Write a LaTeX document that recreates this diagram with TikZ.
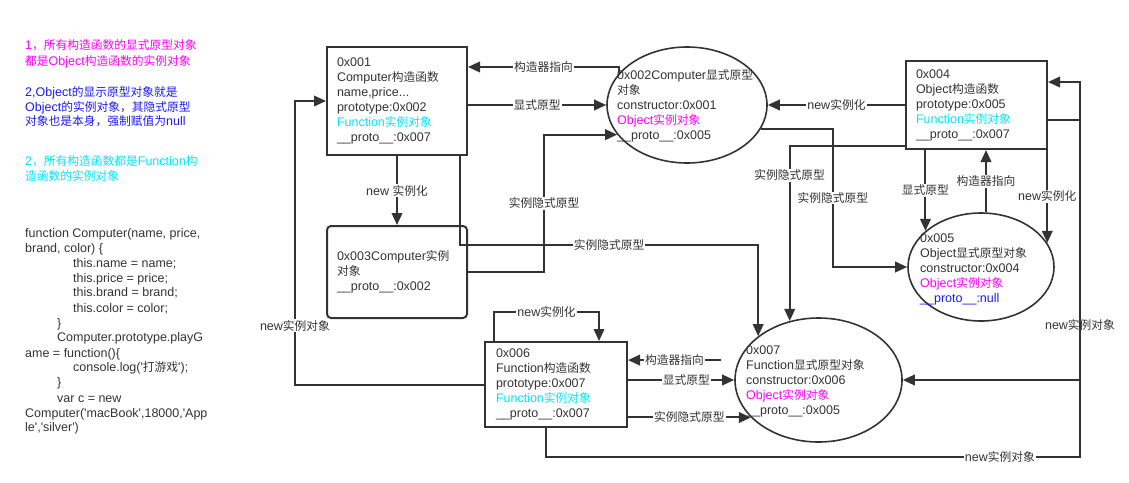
\documentclass[tikz,border=0pt]{standalone}
\usepackage{fontspec}
\setmainfont{Liberation Sans}
\newfontfamily\cjk{Noto Sans CJK SC}[Scale=0.94]
\newcommand\zh[1]{{\cjk #1}}
\usetikzlibrary{arrows.meta,shapes.geometric}
\definecolor{dk}{HTML}{333333}
\definecolor{mag}{HTML}{FF00FF}
\definecolor{blu}{HTML}{1A1AF0}
\definecolor{cya}{HTML}{00E5FF}
\begin{document}
\begin{tikzpicture}[x=1pt,y=-1pt,
 txt/.style={font=\fontsize{12.5}{15}\selectfont, text=dk},
 lbl/.style={txt, fill=white, inner sep=1pt},
 boxn/.style={draw=dk, line width=2pt, txt, align=left, inner xsep=10pt, inner ysep=0pt},
 elln/.style={draw=dk, line width=1.6pt, ellipse, inner sep=0pt},
 etxt/.style={txt, align=left, inner sep=0pt, anchor=west},
 conn/.style={draw=dk, line width=2pt, -{Triangle[length=12pt,width=10.5pt]}},
 ltext/.style={txt, anchor=base west, inner sep=0pt},
]
\useasboundingbox (0,0) rectangle (1129,482);

% left notes
\node[ltext, text=mag] (t1) at (25,49.5) {1\zh{，所有构造函数的显式原型对象}};
\node[ltext, text=mag] (t2) at (25,65.5) {\zh{都是}Object\zh{构造函数的实例对象}};
\node[ltext, text=blu] (t3) at (25,96.5) {2,Object\zh{的显示原型对象就是}};
\node[ltext, text=blu] (t4) at (25,111.5) {Object\zh{的实例对象，其隐式原型}};
\node[ltext, text=blu] (t5) at (25,125.5) {\zh{对象也是本身，强制赋值为}null};
\node[ltext, text=cya] (t6) at (25,165.5) {2\zh{，所有构造函数都是}Function\zh{构}};
\node[ltext, text=cya] (t7) at (25,180.5) {\zh{造函数的实例对象}};

% code
\node[ltext] (c1) at (25,237) {function Computer(name, price,};
\node[ltext] (c2) at (25,252) {brand, color) \{};
\node[ltext] (c3) at (73,267) {this.name = name;};
\node[ltext] (c4) at (73,282) {this.price = price;};
\node[ltext] (c5) at (73,296) {this.brand = brand;};
\node[ltext] (c6) at (73,312) {this.color = color;};
\node[ltext] (c7) at (57,327) {\}};
\node[ltext] (c8) at (57,341) {Computer.prototype.playG};
\node[ltext] (c9) at (25,357) {ame = function()\{};
\node[ltext] (c10) at (73,371) {console.log(\textquotesingle\zh{打游戏}\textquotesingle);};
\node[ltext] (c11) at (57,386) {\}};
\node[ltext] (c12) at (57,402) {var c = new};
\node[ltext] (c13) at (25,417) {Computer(\textquotesingle macBook\textquotesingle,18000,\textquotesingle App};
\node[ltext] (c14) at (25,431) {le\textquotesingle,\textquotesingle silver\textquotesingle)};

% boxes
\node[boxn, text width=120pt, minimum width=140pt, minimum height=108pt] (A) at (397,101)
 {0x001\\Computer\zh{构造函数}\\name,price...\\prototype:0x002\\\textcolor{cya}{Function\zh{实例对象}}\\\_\_proto\_\_:0x007};
\node[boxn, rounded corners=4pt, text width=120pt, minimum width=140pt, minimum height=92pt] (C) at (397,272)
 {0x003Computer\zh{实例}\\\zh{对象}\\\_\_proto\_\_:0x002};
\node[boxn, text width=121pt, minimum width=141pt, minimum height=88pt] (D) at (976.5,105)
 {0x004\\Object\zh{构造函数}\\prototype:0x005\\\textcolor{cya}{Function\zh{实例对象}}\\\_\_proto\_\_:0x007};
\node[boxn, inner xsep=11pt, text width=120pt, minimum width=142pt, minimum height=85pt] (F) at (556,384.5)
 {0x006\\Function\zh{构造函数}\\prototype:0x007\\\textcolor{cya}{Function\zh{实例对象}}\\\_\_proto\_\_:0x007};

% ellipses
\node[elln, minimum width=160pt, minimum height=116pt] (B) at (687,105) {};
\node[etxt, text width=145pt] (Bt) at ([xshift=-70pt,yshift=-1pt]B.center)
 {0x002Computer\zh{显式原型}\\\zh{对象}\\constructor:0x001\\\textcolor{mag}{Object\zh{实例对象}}\\\_\_proto\_\_:0x005};
\node[elln, minimum width=146pt, minimum height=108pt] (E) at (981,267) {};
\node[etxt, text width=130pt] (Et) at ([xshift=-61pt,yshift=-2pt]E.center)
 {0x005\\Object\zh{显式原型对象}\\constructor:0x004\\\textcolor{mag}{Object\zh{实例对象}}\\\textcolor{blu}{\_\_proto\_\_:null}};
\node[elln, minimum width=167pt, minimum height=124pt] (G) at (818.5,380) {};
\node[etxt, text width=150pt] (Gt) at ([xshift=-72.5pt,yshift=-1pt]G.center)
 {0x007\\Function\zh{显式原型对象}\\constructor:0x006\\\textcolor{mag}{Object\zh{实例对象}}\\\_\_proto\_\_:0x005};

\coordinate (rb) at (1080,457);

% connectors
\draw[conn] (B.155) |- node[lbl,pos=0.75]{\zh{构造器指向}} ([yshift=34pt]A.east);
\draw[conn] ([yshift=-4pt]A.east) -- node[lbl]{\zh{显式原型}} (B.west);
\draw[conn] (A.south) -- node[lbl]{new \zh{实例化}} (C.north);
\draw[conn] (C.east) -- ++(76,0) |- node[lbl,pos=0.25]{\zh{实例隐式原型}} (B.203);
\draw[conn] ([xshift=-8pt]A.south east) -- ++(0,89) -| node[lbl,pos=0.25]{\zh{实例隐式原型}} (G.144);
\draw[conn] (D.west) -- node[lbl]{new\zh{实例化}} (B.east);
\draw[conn] ([yshift=-41pt]D.west) -| node[lbl,pos=0.583]{\zh{实例隐式原型}} (G.116);
\draw[conn] (B.342) -- ++(72,0) |- node[lbl,pos=0.25]{\zh{实例隐式原型}} (E.west);
\draw[conn] (E.147 |- D.south) -- node[lbl]{\zh{显式原型}} (E.147);
\draw[conn] ([xshift=5pt]E.north) -- node[lbl]{\zh{构造器指向}} ([xshift=5pt]E.north |- D.south);
\draw[conn] (E.20 |- D.south) -- node[lbl]{new\zh{实例化}} (E.20);
\draw[conn] ([xshift=10pt]F.north west) -- ++(0,-29) -| node[lbl,pos=0.25]{new\zh{实例化}} ([xshift=115pt]F.north west);
\draw[conn, shorten <=18pt] (G.166) -- node[lbl,pos=0.58]{\zh{构造器指向}} (F.east |- G.166);
\draw[conn] (F.east |- G.west) -- node[lbl,pos=0.55]{\zh{显式原型}} (G.west);
\draw[conn] (F.east |- G.209) -- node[lbl]{\zh{实例隐式原型}} (G.209);
\draw[conn] ([xshift=-10pt]F.south) |- node[lbl,pos=0.925]{new\zh{实例对象}} (rb) |- ([yshift=23pt]D.east);
\draw[conn] ([yshift=-15pt]D.east) -- ([yshift=-15pt]D.east -| rb) -- node[txt,pos=0.79]{new\zh{实例对象}} (G.east -| rb) -- (G.east);
\draw[conn] (F.west) -- ++(-189,0) |- node[lbl,pos=0.104]{new\zh{实例对象}} (A.west);
\end{tikzpicture}
\end{document}
